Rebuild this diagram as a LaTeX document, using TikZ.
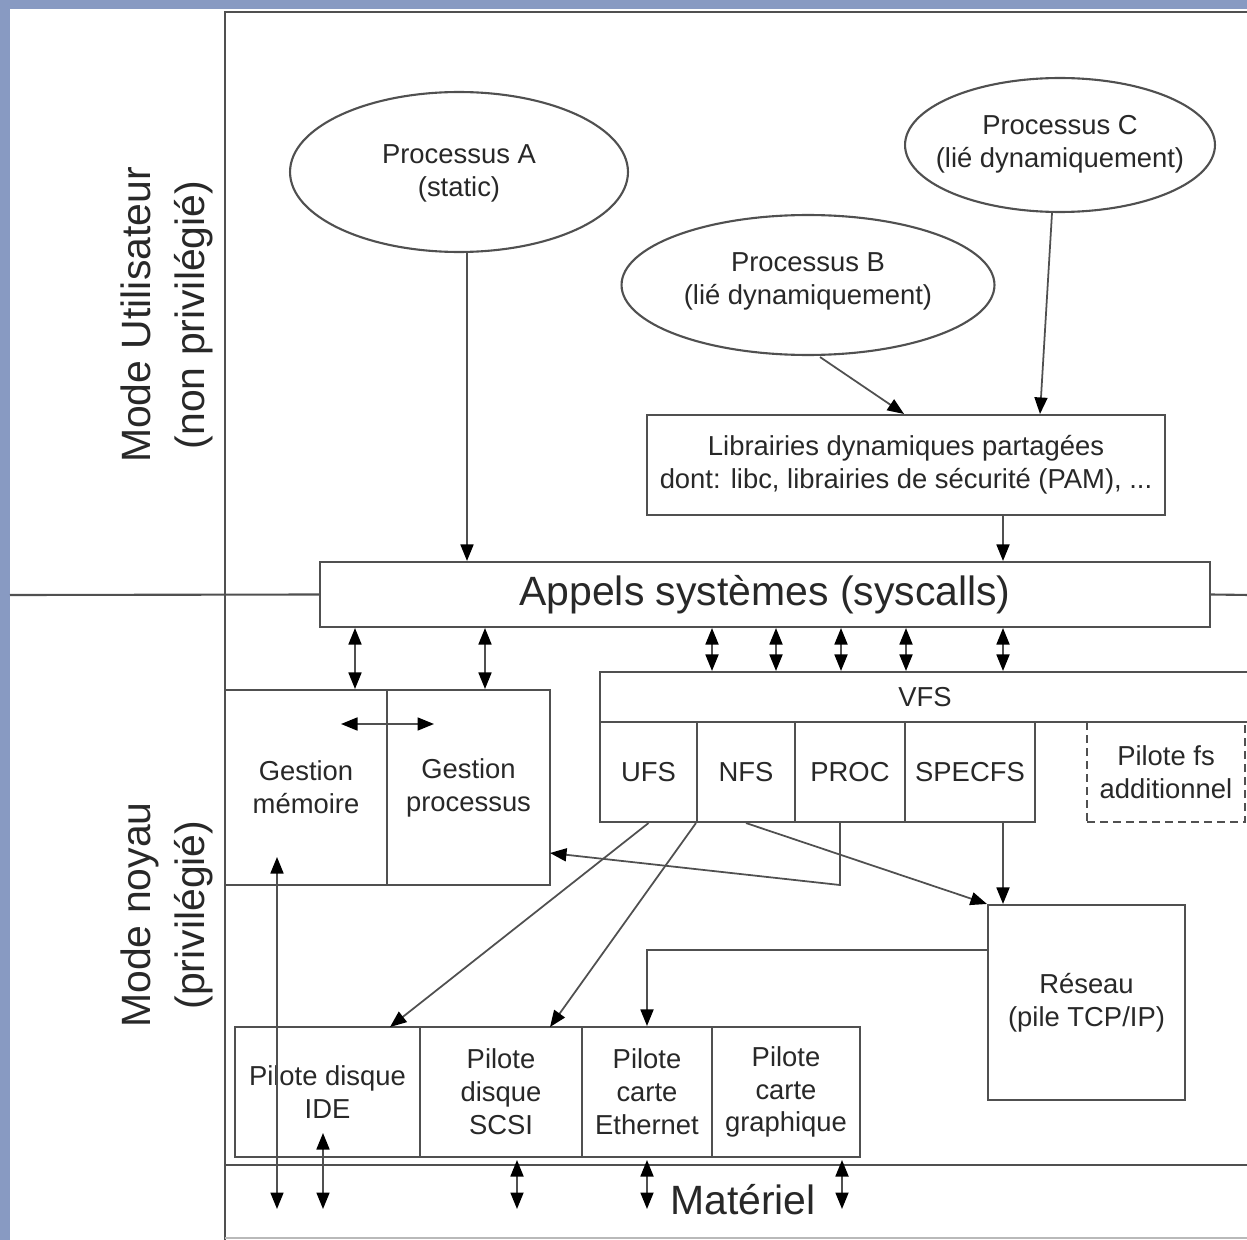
\documentclass[tikz,border=0pt]{standalone}
\usepackage{fontspec}
\setmainfont{Liberation Sans}
\usetikzlibrary{arrows.meta,shapes.geometric,calc}
\definecolor{bgblue}{RGB}{136,154,194}
\definecolor{ln}{RGB}{80,80,80}
\definecolor{tx}{RGB}{40,40,40}
\begin{document}
\begin{tikzpicture}[x=0.02cm,y=-0.02cm,
  >={Triangle[length=3.3mm,width=2.6mm,color=black]},
  small/.style={font=\fontsize{15.6}{18.7}\selectfont,text=tx},
  big/.style={font=\fontsize{23.3}{31}\selectfont,text=tx},
  box/.style={draw=ln,line width=1.2pt,rectangle,inner sep=0pt,small,align=center},
  ell/.style={draw=ln,line width=1.2pt,ellipse,inner sep=0pt},
  arr/.style={draw=ln,line width=1pt,->},
  dbl/.style={draw=ln,line width=1pt,<->},
  frame/.style={draw=ln,line width=1.2pt}]
\useasboundingbox (0,0) rectangle (1247,1240);
\fill[bgblue] (0,0) rectangle (1247,1240);
\fill[white] (10,9) rectangle (1247,1240);
\clip (0,0) rectangle (1247,1240);

% side labels
\node[big,rotate=90,align=center] (mu) at (167,315) {Mode Utilisateur\\(non privilégié)};
\node[big,rotate=90,align=center] (mn) at (167,915) {Mode noyau\\(privilégié)};

% ellipses
\node[ell,minimum width=6.76cm,minimum height=3.2cm] (pa) at (459,172) {};
\node[small,align=center] (pat) at (459,173) {Processus A\\(static)};
\node[ell,minimum width=7.46cm,minimum height=2.8cm] (pb) at (808,285) {};
\node[small,align=center] (pbt) at (808,281) {Processus B\\(lié dynamiquement)};
\node[ell,minimum width=6.2cm,minimum height=2.68cm] (pc) at (1060,145) {};
\node[small,align=center] (pct) at (1060,144) {Processus C\\(lié dynamiquement)};

% libraries and syscalls
\node[box,minimum width=10.36cm,minimum height=2cm] (lib) at (906,465) {Librairies dynamiques partagées\\dont: libc, librairies de sécurité (PAM), ...};
\node[box,big,minimum width=17.8cm,minimum height=1.3cm] (sys) at (765,594.5) {Appels systèmes (syscalls)};

% frame lines
\coordinate (ftop) at (225,12);
\coordinate (fbot) at (225,1240);
\coordinate (fr) at (1250,12);
\coordinate (ul) at (10,595);
\coordinate (ur) at (1250,595);
\coordinate (ml) at (225,1165);
\coordinate (mr) at (1250,1165);
\coordinate (bl) at (225,1238);
\coordinate (br) at (1250,1238);
\draw[frame] (fr) -- (ftop) -- (fbot);
\draw[frame] (ul) -- (sys.west);
\draw[frame] (sys.east) -- (ur);
\draw[frame] (ml) -- (mr);
\draw[draw=ln!40,line width=0.8pt] (bl) -- (br);

% kernel management
\node[box,minimum width=3.24cm,minimum height=3.9cm] (gm) at (306,787.5) {Gestion\\mémoire};
\node[box,minimum width=3.26cm,minimum height=3.9cm] (gp) at (468.5,787.5) {Gestion\\processus};

% VFS
\node[box,minimum width=13cm,minimum height=1cm] (vfs) at (925,697) {VFS};
\node[box,minimum width=1.94cm,minimum height=2cm] (ufs) at (648.5,772) {UFS};
\node[box,minimum width=1.96cm,minimum height=2cm] (nfs) at (746,772) {NFS};
\node[box,minimum width=2.2cm,minimum height=2cm] (proc) at (850,772) {PROC};
\node[box,minimum width=2.6cm,minimum height=2cm] (spec) at (970,772) {SPECFS};
\node[box,dashed,dash pattern=on 1.6mm off 1mm,minimum width=3.16cm,minimum height=2cm] (addfs) at (1166,772) {Pilote fs\\additionnel};

% network
\node[box,minimum width=3.94cm,minimum height=3.9cm] (res) at (1086.5,1002.5) {Réseau\\(pile TCP/IP)};

% drivers
\node[box,minimum width=3.7cm,minimum height=2.6cm] (ide) at (327.5,1092) {Pilote disque\\IDE};
\node[box,minimum width=3.24cm,minimum height=2.6cm] (scsi) at (501,1092) {Pilote\\disque\\SCSI};
\node[box,minimum width=2.6cm,minimum height=2.6cm] (eth) at (647,1092) {Pilote\\carte\\Ethernet};
\node[box,minimum width=2.96cm,minimum height=2.6cm] (gfx) at (786,1092) {Pilote\\carte\\graphique};

\node[big] (mat) at (743,1200) {Matériel};

% helper x positions
\coordinate (xa) at (467,0);
\coordinate (xc) at (1040,0);
\coordinate (x1) at (1003,0);
\coordinate (x2) at (712,0);
\coordinate (x3) at (776,0);
\coordinate (x4) at (841,0);
\coordinate (x5) at (906,0);
\coordinate (x6) at (355,0);
\coordinate (x7) at (485,0);
\coordinate (x8) at (840,0);
\coordinate (x9) at (647,0);
\coordinate (xm) at (277,0);
\coordinate (xi) at (323,0);
\coordinate (xs) at (517,0);
\coordinate (xg) at (842,0);
\coordinate (hw) at (0,1209);
\coordinate (gmb) at (0,857);
\coordinate (idein) at (0,1133);
\coordinate (ytop) at (0,1160);
\coordinate (ha) at (341,724);
\coordinate (hb) at (434,724);
\coordinate (pbend) at (840,885);
\coordinate (gpin) at (550,853);
\coordinate (rbend) at (647,950);
\coordinate (rout) at (988,950);
\coordinate (idetop) at (390,1027);
\coordinate (scsitop) at (550,1027);

% user-space arrows
\draw[arr] (pa.south -| xa) -- (sys.north -| xa);
\draw[arr] ($(pb.south)+(12,1)$) -- ($(lib.north west)+(258,0)$);
\draw[arr] ($(pc.south)+(-8,0)$) -- (lib.north -| xc);
\draw[arr] (lib.south -| x1) -- (sys.north -| x1);

% syscalls to kernel
\foreach \xx in {x1,x2,x3,x4,x5}
  \draw[dbl] (sys.south -| \xx) -- (vfs.north -| \xx);
\draw[dbl] (sys.south -| x6) -- (gm.north -| x6);
\draw[dbl] (sys.south -| x7) -- (gp.north -| x7);
\draw[dbl] (ha) -- (hb);

% VFS to drivers
\draw[arr] (ufs.south) -- (idetop);
\draw[arr] (nfs.south west) -- (scsitop);
\draw[arr] (nfs.south) -- (res.north west);
\draw[arr] (proc.south -| x8) -- (pbend) -- (gpin);
\draw[arr] (spec.south -| x1) -- (res.north -| x1);
\draw[arr] (rout) -- (rbend) -- (eth.north);

% hardware arrows
\draw[dbl] (hw -| xm) -- (gmb -| xm);
\draw[dbl] (hw -| xi) -- (idein -| xi);
\draw[dbl] (hw -| xs) -- (ytop -| xs);
\draw[dbl] (hw -| x9) -- (ytop -| x9);
\draw[dbl] (hw -| xg) -- (ytop -| xg);
\end{tikzpicture}
\end{document}
